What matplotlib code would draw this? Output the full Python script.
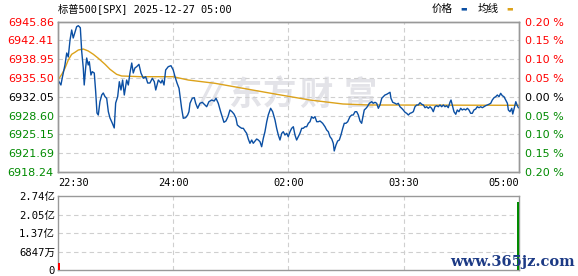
import numpy as np
import matplotlib.pyplot as plt

plt.rcParams['font.family'] = ['DejaVu Sans', 'Noto Sans CJK SC']

# ---- data ----
title = '标普500[SPX] 2025-12-27 05:00'
pre_close = 6932.05
price_ticks = [6918.24, 6921.69, 6925.15, 6928.60, 6932.05, 6935.50, 6938.95, 6942.41, 6945.86]
time_ticks = [0, 97.5, 195, 292.5, 390]
time_labels = ['22:30', '24:00', '02:00', '03:30', '05:00']
vol_ticks = [0, 6.847e7, 1.37e8, 2.05e8, 2.74e8]
vol_labels = ['0', '6847万', '1.37亿', '2.05亿', '2.74亿']

# minutes since 22:30
minutes = [0, 2.5, 3.6, 5.9, 7.4, 8.7, 10.2, 11.6, 12.9, 14.4, 15.8, 17.2, 18.9, 20.1, 21.4, 22.2,
           23.4, 24.3, 25.6, 26.5, 27.9, 29.0, 30.7, 31.9, 33.0, 34.1, 35.5, 37.0, 38.3, 39.8, 41.2,
           42.6, 44.0, 45.9, 47.6, 48.8, 50.5, 51.9, 53.3, 54.7, 56.1, 58.1, 59.5, 60.9, 62.4, 63.7,
           65.1, 66.6, 68.5, 70.2, 72.2, 74.2, 75.9, 77.8, 79.8, 81.5, 82.7, 83.8, 84.9, 87.1, 88.2,
           89.7, 91.1, 93.3, 95.6, 97.5, 99.0, 100.7, 102.4, 103.5, 104.6, 106.0, 108.0, 109.7, 110.8,
           111.7, 113.6, 115.3, 116.5, 118.2, 120.1, 122.1, 124.4, 125.8, 127.7, 130.0, 132.2, 133.7,
           135.6, 137.6, 139.3, 140.4, 142.1, 143.8, 145.5, 147.2, 148.9, 150.6, 151.7, 153.4, 155.4,
           156.8, 158.2, 159.6, 161.0, 162.4, 163.9, 165.2, 166.7, 168.1, 169.5, 170.9, 172.3, 173.7,
           175.1, 176.6, 177.9, 179.9, 181.6, 183.6, 185.0, 186.4, 187.8, 189.3, 190.6, 192.0, 193.5,
           194.8, 196.3, 197.7, 199.1, 200.5, 201.9, 203.3, 204.7, 206.2, 207.5, 209.0, 210.4, 211.8,
           213.2, 214.6, 216.0, 217.4, 218.9, 220.2, 221.7, 223.9, 225.9, 227.3, 228.7, 230.1, 231.6,
           232.9, 233.7, 235.2, 236.6, 238.0, 239.4, 240.9, 242.2, 243.6, 245.1, 247.0, 248.5, 249.8,
           251.3, 252.7, 254.1, 255.5, 256.9, 258.3, 259.1, 260.6, 261.7, 263.4, 265.4, 266.7, 268.2,
           269.6, 271.0, 272.4, 273.9, 275.2, 276.6, 278.1, 279.4, 280.9, 281.7, 283.2, 285.1, 286.5,
           287.9, 289.3, 290.8, 292.1, 293.6, 295.0, 296.4, 297.8, 299.2, 300.6, 302.0, 303.5, 304.8,
           306.3, 307.7, 309.1, 310.5, 311.9, 313.3, 314.7, 316.1, 317.5, 318.9, 320.4, 321.7, 323.2,
           324.6, 326.0, 327.4, 328.8, 330.2, 331.6, 332.5, 333.6, 335.0, 336.5, 337.8, 339.2, 340.7,
           342.0, 343.5, 344.9, 346.3, 347.7, 349.1, 350.5, 351.9, 353.4, 354.7, 356.2, 357.6, 359.0,
           360.4, 361.8, 363.2, 364.6, 366.1, 367.4, 368.9, 370.3, 371.7, 373.1, 374.5, 375.9, 377.3,
           378.8, 380.2, 381.0, 382.4, 383.9, 384.7, 385.8, 387.3, 388.6, 389.5]
price = [6935.12, 6934.21, 6935.49, 6937.88, 6940.08, 6939.35, 6942.47, 6944.30, 6942.83, 6943.93,
         6944.91, 6945.09, 6944.72, 6940.32, 6937.33, 6934.21, 6937.33, 6939.16, 6937.88, 6938.48,
         6936.04, 6936.65, 6936.41, 6932.98, 6929.07, 6928.70, 6931.14, 6932.37, 6932.74, 6932.06,
         6931.77, 6929.31, 6928.15, 6927.23, 6926.32, 6930.90, 6932.06, 6934.81, 6933.29, 6935.12,
         6932.37, 6935.12, 6934.21, 6936.41, 6938.24, 6936.41, 6937.33, 6937.57, 6938.00, 6936.41,
         6935.44, 6935.73, 6934.57, 6934.57, 6935.44, 6934.81, 6933.29, 6934.21, 6935.12, 6934.57,
         6935.12, 6934.21, 6936.96, 6937.57, 6937.75, 6936.96, 6935.73, 6934.57, 6933.60, 6931.77,
         6929.93, 6928.10, 6928.21, 6928.70, 6929.31, 6930.85, 6931.77, 6931.88, 6930.85, 6929.93,
         6930.85, 6931.03, 6930.54, 6930.22, 6931.14, 6931.45, 6931.27, 6931.77, 6930.85, 6929.31,
         6928.10, 6927.36, 6927.60, 6928.39, 6929.62, 6929.31, 6928.88, 6928.10, 6926.87, 6926.55,
         6926.26, 6926.26, 6925.77, 6925.34, 6924.30, 6923.51, 6924.11, 6923.51, 6923.93, 6924.30,
         6924.11, 6923.80, 6922.88, 6924.42, 6925.64, 6927.47, 6928.70, 6929.93, 6929.31, 6927.78,
         6926.26, 6925.03, 6924.11, 6925.34, 6925.64, 6925.03, 6925.34, 6924.72, 6925.64, 6926.26,
         6926.55, 6925.03, 6924.11, 6924.72, 6925.34, 6926.26, 6926.26, 6926.55, 6926.55, 6927.18,
         6927.47, 6928.39, 6928.10, 6928.39, 6927.47, 6927.47, 6927.60, 6927.18, 6926.55, 6925.95,
         6925.64, 6924.72, 6924.30, 6923.51, 6922.10, 6923.20, 6923.93, 6924.11, 6925.03, 6926.26,
         6927.18, 6927.18, 6927.47, 6928.39, 6928.70, 6928.70, 6929.31, 6929.31, 6928.70, 6927.60,
         6927.18, 6928.70, 6929.62, 6929.93, 6930.22, 6930.85, 6931.14, 6930.85, 6931.03, 6930.85,
         6929.93, 6930.54, 6931.77, 6932.06, 6932.37, 6932.50, 6932.68, 6932.87, 6931.77, 6931.03,
         6930.85, 6930.67, 6930.85, 6930.22, 6929.93, 6929.62, 6929.20, 6929.01, 6928.70, 6929.01,
         6929.12, 6929.31, 6930.22, 6930.54, 6930.54, 6930.96, 6930.67, 6930.54, 6930.04, 6930.22,
         6929.93, 6930.22, 6929.93, 6929.31, 6930.22, 6930.41, 6930.22, 6930.54, 6930.22, 6930.54,
         6930.22, 6930.41, 6930.04, 6931.03, 6931.45, 6930.54, 6929.31, 6928.83, 6929.62, 6929.31,
         6929.93, 6929.62, 6929.80, 6929.62, 6929.93, 6929.62, 6929.01, 6929.01, 6929.62, 6929.80,
         6930.22, 6930.04, 6930.22, 6930.04, 6930.22, 6930.41, 6930.54, 6930.67, 6930.85, 6931.45,
         6931.88, 6932.06, 6932.37, 6932.06, 6932.68, 6932.24, 6932.06, 6931.45, 6930.85, 6929.62,
         6929.31, 6929.93, 6928.88, 6929.80, 6931.14, 6930.41, 6930.04]

avg_minutes = [0, 3.4, 5.9, 8.7, 11.6, 14.4, 17.2, 21.4, 25.6, 29.9, 34.1, 39.8, 44.0, 49.6, 53.9,
               70.0, 97.5, 110.2, 132.8, 156.5, 185.0, 213.2, 241.1, 263.1, 389.5]
avg_price = [6935.12, 6936.23, 6937.27, 6938.79, 6939.84, 6940.21, 6940.63, 6940.81, 6940.45, 6939.84,
             6939.11, 6938.01, 6937.09, 6936.17, 6935.86, 6935.73, 6935.73, 6935.12, 6934.52, 6933.60,
             6932.50, 6931.45, 6930.72, 6930.54, 6930.48]

vol_open = 2.48e7
vol_close = 2.52e8
tick_vol = 1.8e6

# ---- figure ----
fig = plt.figure(figsize=(5.78, 2.76), dpi=100)
ax = fig.add_axes([0.1003, 0.3768, 0.7976, 0.5453])
axv = fig.add_axes([0.1003, 0.0217, 0.7976, 0.2681])

red = '#ff0000'
green = '#008a00'
grid_kw = dict(color='#cfcfcf', linestyle=(0, (4, 3)), linewidth=0.8)

ax.plot(minutes, price, color='#0b4fa3', lw=1.0, zorder=3)
ax.plot(avg_minutes, avg_price, color='#dca21a', lw=1.0, zorder=2.5)
ax.set_xlim(0, 390)
ax.set_ylim(price_ticks[0], price_ticks[-1])
ax.set_yticks(price_ticks)
ax.set_yticklabels(['%.2f' % p for p in price_ticks], fontsize=8)
for lab, p in zip(ax.get_yticklabels(), price_ticks):
    lab.set_color(red if p > pre_close + 0.01 else (green if p < pre_close - 0.01 else 'black'))
ax.set_xticks(time_ticks)
ax.set_xticklabels(time_labels, family=['DejaVu Sans Mono', 'Noto Sans CJK SC'], fontsize=7.4)
xl = ax.get_xticklabels()
xl[0].set_ha('left')
xl[-1].set_ha('right')
ax.tick_params(length=0, pad=4)
ax.tick_params(axis='y', pad=3)
for y in price_ticks[1:-1]:
    ax.axhline(y, **grid_kw, zorder=1)
for x in time_ticks[1:-1]:
    ax.axvline(x, **grid_kw, zorder=1)

# right percent axis
axr = ax.twinx()
axr.set_ylim(ax.get_ylim())
axr.set_yticks(price_ticks)
pct = [(p - pre_close) / pre_close * 100 for p in price_ticks]
axr.set_yticklabels(['%.2f %%' % abs(v) for v in pct], fontsize=8)
for lab, v in zip(axr.get_yticklabels(), pct):
    lab.set_color(red if v > 0.001 else (green if v < -0.001 else 'black'))
axr.tick_params(length=0, pad=4)

for a in (ax, axr, axv):
    for s in a.spines.values():
        s.set_color('#999999')
        s.set_linewidth(1.0)

# volume
colors = []
for i in range(1, len(price) - 1):
    colors.append(red if price[i] >= price[i - 1] else green)
axv.bar(minutes[1:-1], [tick_vol] * (len(minutes) - 2), width=0.9, color=colors, zorder=3)
axv.bar([minutes[0] + 0.8], [vol_open], width=1.0, color=red, zorder=3)
axv.bar([389.2], [vol_close], width=1.2, color=green, zorder=3)
axv.set_xlim(0, 390)
axv.set_ylim(0, vol_ticks[-1])
axv.set_yticks(vol_ticks)
axv.set_yticklabels(vol_labels, family=['DejaVu Sans Mono', 'Noto Sans CJK SC'], fontsize=7.6)
axv.set_xticks([])
axv.tick_params(length=0, pad=2)
for y in vol_ticks[1:-1]:
    axv.axhline(y, **grid_kw, zorder=1)
for x in time_ticks[1:-1]:
    axv.axvline(x, **grid_kw, zorder=1)

# header
fig.text(58 / 578, 1 - 8.5 / 276, title, family=['DejaVu Sans Mono', 'Noto Sans CJK SC'],
         fontsize=7.4, va='center', ha='left')
fig.text(432 / 578, 1 - 8.5 / 276, '价格', family=['Noto Sans CJK SC'], fontsize=7.6, va='center')
fig.text(464 / 578, 1 - 8 / 276, '▬', color='#0b4fa3', fontsize=5, va='center', ha='center')
fig.text(478 / 578, 1 - 8.5 / 276, '均线', family=['Noto Sans CJK SC'], fontsize=7.6, va='center')
fig.text(510 / 578, 1 - 8 / 276, '▬', color='#dca21a', fontsize=5, va='center', ha='center')

# watermarks
wm = '#e3e3e8'
ax.text(212 / 578, 1 - 95 / 276, '//', transform=fig.transFigure, fontsize=22, fontweight='bold',
        color=wm, ha='center', va='center', zorder=0.8, style='italic')
for ch, cx in zip('东方财富', [245, 280, 316, 360]):
    ax.text(cx / 578, 1 - 95 / 276, ch, transform=fig.transFigure, fontsize=24, fontweight='bold',
            color=wm, family=['Noto Sans CJK SC'], ha='center', va='center', zorder=0.8)
fig.text(512 / 578, 1 - 262 / 276, 'www.365jz.com', color='#1c3a85', fontsize=10.5,
         family='DejaVu Serif', fontweight='bold', ha='center', va='center')

fig.savefig('out.png', dpi=100)
